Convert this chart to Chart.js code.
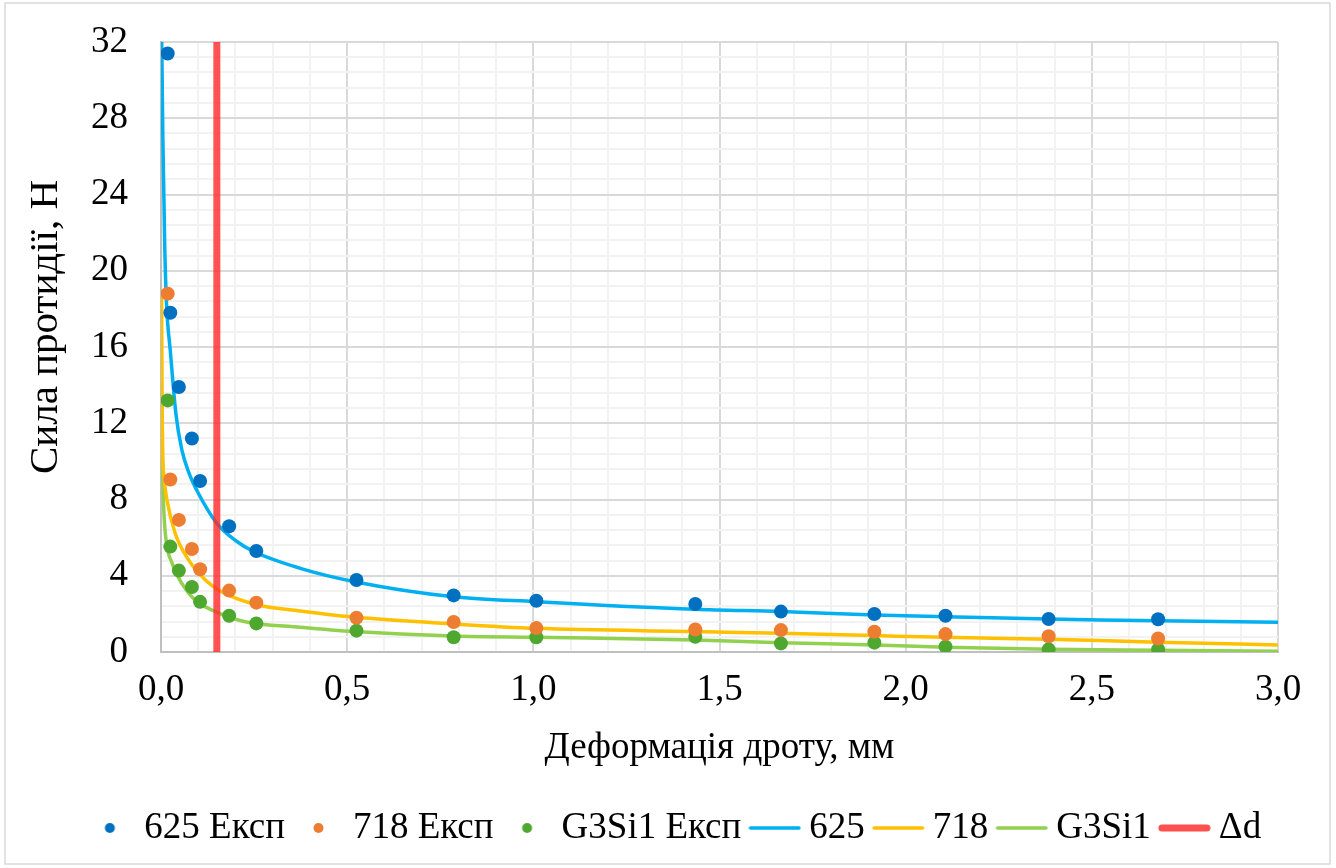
<!DOCTYPE html>
<html lang="uk">
<head>
<meta charset="utf-8">
<title>Сила протидії</title>
<script src="https://cdn.jsdelivr.net/npm/chart.js@4.4.1/dist/chart.umd.min.js"></script>
<style>
  html, body { margin: 0; padding: 0; background: #fff; }
  #wrap { width: 1336px; height: 868px; }
</style>
</head>
<body>
<div id="wrap"><canvas id="chart" width="1336" height="868"></canvas></div>
<script>
// Measured deformation points, mm (shared by all three wires)
const expX = [0.018, 0.025, 0.048, 0.083, 0.105, 0.183, 0.256, 0.525, 0.786, 1.008, 1.435, 1.665, 1.916, 2.107, 2.384, 2.678];
// Measured counter-force, N
const exp625 = [31.4, 17.8, 13.9, 11.2, 8.97, 6.6, 5.3, 3.78, 2.97, 2.69, 2.52, 2.12, 1.99, 1.9, 1.73, 1.72];
const exp718 = [18.8, 9.05, 6.93, 5.4, 4.34, 3.22, 2.59, 1.8, 1.57, 1.26, 1.18, 1.15, 1.06, 0.94, 0.83, 0.71];
const expG3Si1 = [13.2, 5.53, 4.27, 3.41, 2.63, 1.9, 1.5, 1.12, 0.77, 0.77, 0.8, 0.45, 0.49, 0.28, 0.14, 0.13];

// Fitted curves
const fit625X = [0.002, 0.005, 0.01, 0.015, 0.025, 0.04, 0.056, 0.075, 0.101, 0.15, 0.2, 0.249, 0.374, 0.52, 0.786, 1.008, 1.435, 1.665, 1.916, 2.107, 2.384, 2.523, 3.0];
const fit625Y = [32.0, 27.0, 21.3, 18.2, 15.8, 12.5, 10.6, 9.4, 8.3, 6.75, 5.85, 5.27, 4.39, 3.69, 2.9, 2.64, 2.24, 2.12, 1.94, 1.85, 1.73, 1.68, 1.56];
const fit718X = [0.0015, 0.003, 0.0045, 0.009, 0.016, 0.038, 0.074, 0.119, 0.159, 0.249, 0.374, 0.517, 0.786, 1.008, 1.435, 1.665, 1.916, 2.107, 2.384, 2.678, 3.0];
const fit718Y = [19.0, 13.0, 10.6, 9.0, 7.97, 6.23, 4.83, 3.78, 3.2, 2.52, 2.15, 1.83, 1.47, 1.24, 1.07, 0.98, 0.86, 0.77, 0.67, 0.51, 0.37];
const fitG3X = [0.0015, 0.003, 0.006, 0.0115, 0.03, 0.056, 0.092, 0.146, 0.226, 0.374, 0.52, 0.786, 1.008, 1.435, 1.665, 1.916, 2.107, 2.384, 2.678, 3.0];
const fitG3Y = [13.3, 10.6, 8.2, 6.24, 4.65, 3.6, 2.72, 2.12, 1.59, 1.3, 1.07, 0.84, 0.77, 0.63, 0.49, 0.37, 0.25, 0.14, 0.09, 0.04];

// Δd marker
const deltaD = 0.15;
const deltaDRange = [0, 32];

// Axis tick labels and titles
const xTickLabels = ['0,0', '0,5', '1,0', '1,5', '2,0', '2,5', '3,0'];
const yTickLabels = ['0', '4', '8', '12', '16', '20', '24', '28', '32'];
const xTitle = 'Деформація дроту, мм';
const yTitle = 'Сила протидії, Н';

// Legend / series names
const seriesNames = ['625 Експ', '718 Експ', 'G3Si1 Експ', '625', '718', 'G3Si1', 'Δd'];

const FONT = "'Liberation Serif', 'Times New Roman', serif";
const C = {
  dot625: '#0070C0', dot718: '#ED7D31', dotG3: '#4EA72E',
  line625: '#00B0F0', line718: '#FFC000', lineG3: '#92D050',
  delta: 'rgba(255, 40, 40, 0.8)'
};

const pts = (xs, ys) => xs.map((x, i) => ({ x, y: ys[i] }));

function legendSymbol(kind, color, width) {
  const c = document.createElement('canvas');
  c.width = 53; c.height = 14;
  const g = c.getContext('2d');
  if (kind === 'dot') {
    g.fillStyle = color;
    g.beginPath(); g.arc(26.5, 7, 5, 0, Math.PI * 2); g.fill();
  } else {
    g.strokeStyle = color; g.lineWidth = width; g.lineCap = 'round';
    g.beginPath(); g.moveTo(width / 2 + 0.5, 7); g.lineTo(53 - width / 2 - 0.5, 7); g.stroke();
  }
  return c;
}
const symbols = [
  legendSymbol('dot', C.dot625), legendSymbol('dot', C.dot718), legendSymbol('dot', C.dotG3),
  legendSymbol('line', C.line625, 3.5), legendSymbol('line', C.line718, 3.5), legendSymbol('line', C.lineG3, 3.5),
  legendSymbol('line', '#FF5050', 7)
];

const dotSet = (label, ys, color) => ({
  label, data: pts(expX, ys), showLine: false,
  pointRadius: 7, pointHoverRadius: 7, pointBackgroundColor: color, pointBorderWidth: 0,
  backgroundColor: color, borderColor: color, order: 0
});
const lineSet = (label, xs, ys, color) => ({
  label, data: pts(xs, ys), showLine: true, pointRadius: 0, pointHoverRadius: 0,
  borderColor: color, backgroundColor: color, borderWidth: 3.5,
  cubicInterpolationMode: 'monotone', order: 2
});

// Outer frame, the rotated y-axis title, and centring of the legend row on the page
const chartDecor = {
  id: 'chartDecor',
  afterLayout(chart) {
    if (chart.legend) { chart.legend.left += 36; chart.legend.right += 36; }
  },
  afterDraw(chart) {
    const g = chart.ctx;
    g.save();
    g.strokeStyle = '#D9D9D9'; g.lineWidth = 1.5;
    g.strokeRect(5, 3, 1325, 861);
    g.translate(46, 327);
    g.rotate(-Math.PI / 2);
    g.fillStyle = '#000';
    g.font = '41px ' + FONT;
    g.textAlign = 'center';
    g.textBaseline = 'middle';
    g.fillText(yTitle, 0, 0);
    g.restore();
  }
};

new Chart(document.getElementById('chart'), {
  type: 'scatter',
  data: {
    datasets: [
      dotSet(seriesNames[0], exp625, C.dot625),
      dotSet(seriesNames[1], exp718, C.dot718),
      dotSet(seriesNames[2], expG3Si1, C.dotG3),
      lineSet(seriesNames[3], fit625X, fit625Y, C.line625),
      lineSet(seriesNames[4], fit718X, fit718Y, C.line718),
      lineSet(seriesNames[5], fitG3X, fitG3Y, C.lineG3),
      {
        label: seriesNames[6],
        data: deltaDRange.map(y => ({ x: deltaD, y })),
        showLine: true, pointRadius: 0, pointHoverRadius: 0,
        borderColor: C.delta, backgroundColor: C.delta, borderWidth: 7, order: 1
      }
    ]
  },
  options: {
    responsive: false,
    animation: false,
    events: [],
    layout: { padding: { left: 5, right: 58, top: 42, bottom: 11.5 } },
    scales: {
      x: {
        type: 'linear', min: 0, max: 3,
        afterBuildTicks: axis => { axis.ticks = Array.from({ length: 31 }, (_, i) => ({ value: i / 10 })); },
        afterFit: axis => { axis.height = 140; },
        ticks: {
          autoSkip: false, maxRotation: 0, minRotation: 0, padding: 16, color: '#000',
          font: { family: FONT, size: 37 },
          callback: v => { const k = Math.round(v * 10); return k % 5 === 0 ? xTickLabels[k / 5] : ''; }
        },
        grid: {
          drawTicks: false, lineWidth: 2,
          color: c => (c.index % 5 === 0 ? '#D9D9D9' : '#F2F2F2')
        },
        border: { color: '#BFBFBF', width: 2 },
        title: {
          display: true, text: xTitle, color: '#000',
          font: { family: FONT, size: 37 }, padding: { top: 0, bottom: 22 }
        }
      },
      y: {
        type: 'linear', min: 0, max: 32,
        afterBuildTicks: axis => { axis.ticks = Array.from({ length: 41 }, (_, i) => ({ value: i * 0.8 })); },
        afterFit: axis => { axis.width = 156; },
        ticks: {
          autoSkip: false, padding: 0, color: '#000',
          font: { family: FONT, size: 37 },
          callback: v => { const k = Math.round(v / 0.8); return k % 5 === 0 ? yTickLabels[k / 5] : ''; }
        },
        grid: {
          drawTicks: true, tickLength: 33, tickColor: 'rgba(0,0,0,0)', lineWidth: 2,
          color: c => (c.index % 5 === 0 ? '#D9D9D9' : '#F2F2F2')
        },
        border: { color: '#BFBFBF', width: 2 },
        title: { display: false }
      }
    },
    plugins: {
      tooltip: { enabled: false },
      legend: {
        position: 'bottom',
        labels: {
          usePointStyle: true, pointStyleWidth: 32, padding: 17.5, color: '#000',
          font: { family: FONT, size: 37 },
          generateLabels: chart => chart.data.datasets.map((ds, i) => ({
            text: ds.label, pointStyle: symbols[i], datasetIndex: i,
            fillStyle: ds.borderColor, strokeStyle: ds.borderColor, lineWidth: 0, hidden: false
          }))
        }
      }
    }
  },
  plugins: [chartDecor]
});
</script>
</body>
</html>
